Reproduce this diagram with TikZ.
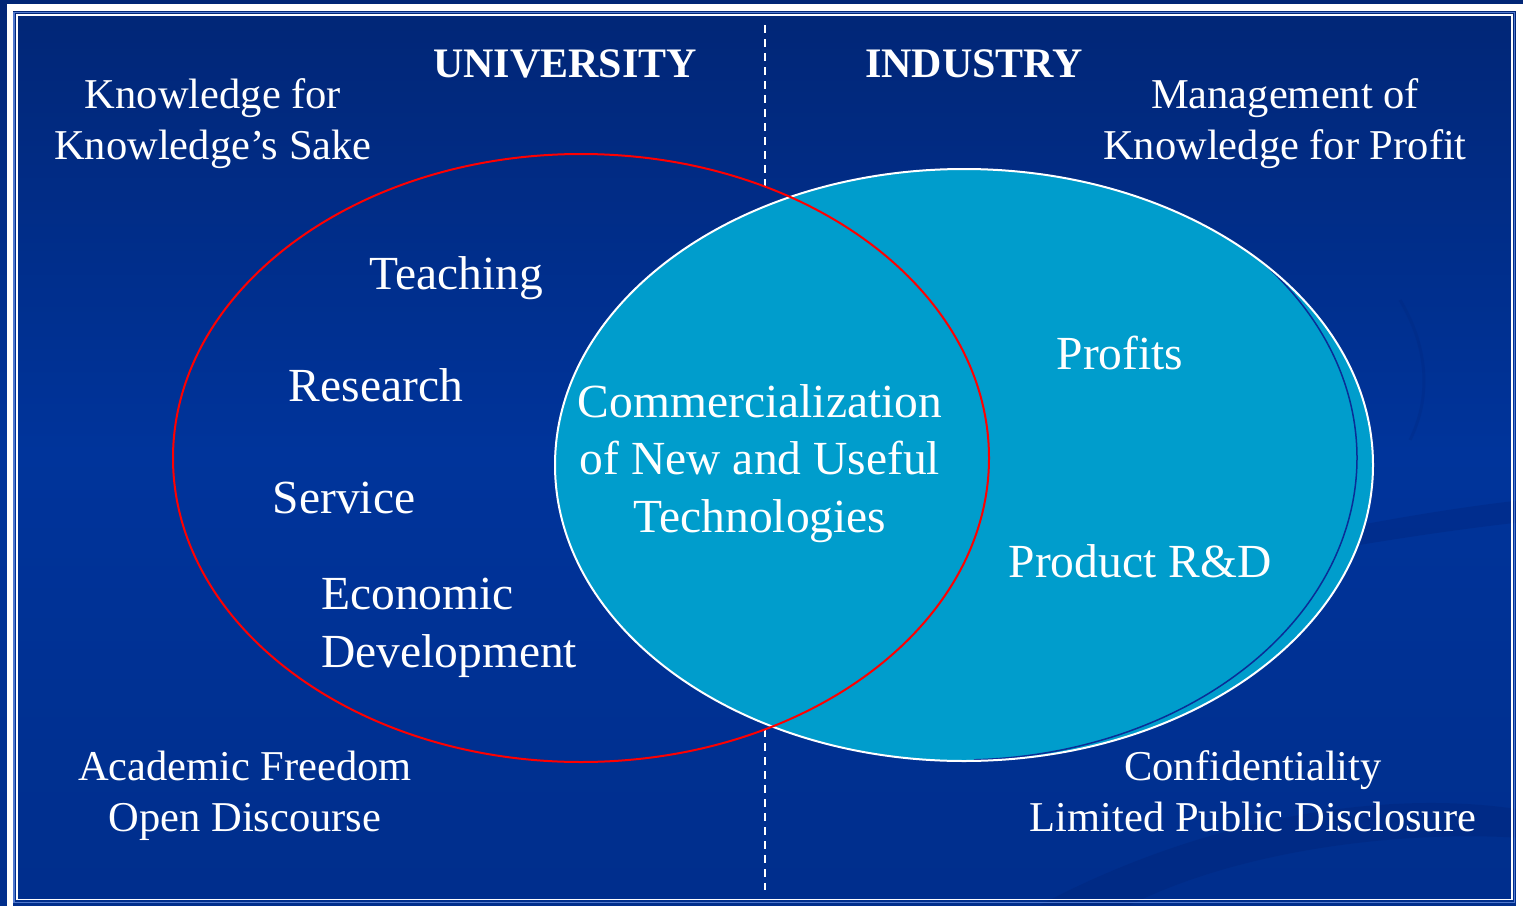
\documentclass[tikz,border=0pt]{standalone}
\usepackage{fontspec}
\setmainfont{Liberation Serif}

\definecolor{slidetop}{RGB}{1,38,118}
\definecolor{slidemid}{RGB}{0,52,155}
\definecolor{slidebot}{RGB}{0,46,140}
\definecolor{swoosh}{RGB}{0,28,105}
\definecolor{framelight}{RGB}{80,120,205}
\definecolor{industry}{RGB}{0,157,204}
\definecolor{rimblue}{RGB}{10,45,150}

\tikzset{
  head/.style={anchor=base, inner sep=0, text=white, font=\fontsize{42}{50}\selectfont\bfseries},
  corner/.style={anchor=base, inner sep=0, text=white, align=center, font=\fontsize{42.5}{50.5}\selectfont},
  item/.style={anchor=base, inner sep=0, text=white, font=\fontsize{47.5}{57.5}\selectfont},
  divider/.style={white, line width=2, dash pattern=on 8pt off 6pt},
}

\begin{document}
\begin{tikzpicture}[x=1pt, y=-1pt]
  % pixel grid, y runs down; multi-line nodes sit on their last baseline
  \useasboundingbox (0,0) rectangle (1523,905);

  % slide background
  \shade[top color=slidetop, bottom color=slidemid] (0,0) rectangle (1523,452);
  \shade[top color=slidemid, bottom color=slidebot] (0,452) rectangle (1523,905);

  % faint swooshes of the slide template
  \fill[swoosh, opacity=.22] (1250,548) .. controls (1350,525) and (1450,508) .. (1523,500)
    -- (1523,522) .. controls (1450,530) and (1350,545) .. (1250,565) -- cycle;
  \fill[swoosh, opacity=.22] (1040,905) .. controls (1220,810) and (1400,790) .. (1523,810)
    -- (1523,838) .. controls (1400,830) and (1240,850) .. (1130,905) -- cycle;
  \draw[swoosh, opacity=.15, line width=3] (1400,300) .. controls (1430,350) and (1430,400) .. (1410,440);

  % frame
  \draw[white, line width=6.5] (10,7.5) rectangle (1519.5,930);
  \draw[framelight, line width=1.5] (14,12.5) rectangle (1514.5,902.5);
  \draw[white, line width=1.8] (17,15) rectangle (1512,899.5);

  % dividing line, broken where the university circle lies
  \coordinate (divtop) at (765,25);
  \coordinate (divin) at (765,187);
  \coordinate (divout) at (765,729);
  \coordinate (divbot) at (765,890);
  \draw[divider] (divtop) -- (divin);
  \draw[divider] (divout) -- (divbot);

  % industry circle, with its inner rim
  \fill[industry] (964,465) ellipse [x radius=409, y radius=296];
  \draw[rimblue, line width=1.5] (960,458) ++(-42:397 and 302)
    arc[start angle=-42, end angle=88, x radius=397, y radius=302];
  \draw[white, line width=2] (964,465) ellipse [x radius=409, y radius=296];

  % university circle
  \draw[red, line width=2] (581,458) ellipse [x radius=408, y radius=304];

  % headings
  \node[head] (uni) at (565,77) {UNIVERSITY};
  \node[head] (ind) at (974,77) {INDUSTRY};

  % corner notes
  \node[corner] (uniaim) at (213,159) {Knowledge for\\Knowledge's Sake};
  \node[corner] (indaim) at (1285,159) {Management of\\Knowledge for Profit};
  \node[corner] (unirule) at (245,831) {Academic Freedom\\Open Discourse};
  \node[corner] (indrule) at (1253,831) {Confidentiality\\Limited Public Disclosure};

  % university missions
  \node[item] (teach) at (456,289) {Teaching};
  \node[item] (research) at (376,401) {Research};
  \node[item] (service) at (344,513) {Service};
  \node[item, anchor=base west, align=left] (econ) at (321,667) {Economic\\Development};

  % shared ground
  \node[item, align=center] (comm) at (760,532) {Commercialization\\of New and Useful\\Technologies};

  % industry aims
  \node[item] (profits) at (1120,369) {Profits};
  \node[item] (prd) at (1140,577) {Product R\&D};
\end{tikzpicture}
\end{document}
